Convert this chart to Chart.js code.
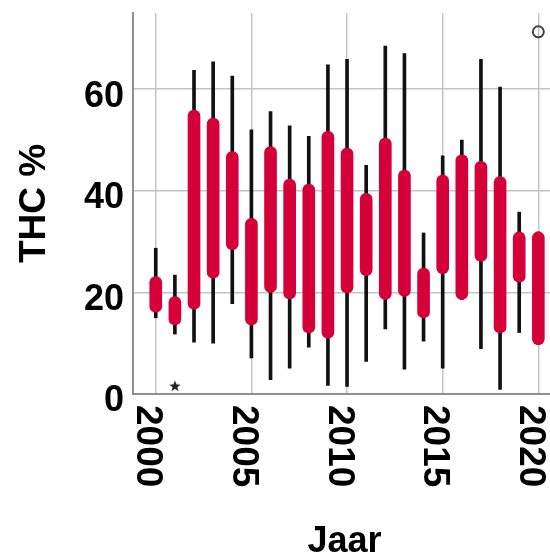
<!DOCTYPE html>
<html>
<head>
<meta charset="utf-8">
<script src="https://cdn.jsdelivr.net/npm/chart.js@4"></script>
<style>
  html, body { margin: 0; padding: 0; background: #fff; }
  #wrap { width: 550px; height: 559px; }
</style>
</head>
<body>
<div id="wrap"><canvas id="chart" width="550" height="559"></canvas></div>
<script>
// Data (THC % per year)
const years       = [2000, 2001, 2002, 2003, 2004, 2005, 2006, 2007, 2008, 2009, 2010, 2011, 2012, 2013, 2014, 2015, 2016, 2017, 2018, 2019, 2020];
const whiskerLow  = [15.0, 11.8, 10.2, 10.0, 17.8,  7.1,  2.8,  5.1,  9.2,  1.7,  1.5,  6.4, 12.8,  4.9, 10.4,  5.1, 18.6,  8.9,  0.9, 12.1,  9.7];
const boxLow      = [16.1, 13.6, 16.7, 22.8, 28.4, 13.6, 20.0, 18.7, 12.0, 11.0, 19.9, 23.3, 18.6, 19.2, 15.0, 23.7, 18.6, 26.1, 12.0, 22.0,  9.7];
const boxHigh     = [23.1, 19.2, 55.9, 54.3, 47.7, 34.6, 48.7, 42.3, 41.3, 51.7, 48.4, 39.5, 50.4, 44.1, 24.8, 43.1, 47.1, 45.8, 42.8, 31.9, 31.9];
const whiskerHigh = [28.7, 23.4, 63.7, 65.4, 62.6, 52.0, 55.6, 52.8, 50.7, 64.8, 65.9, 45.0, 68.5, 67.0, 31.7, 46.9, 50.0, 65.9, 60.4, 35.8, 31.9];

// extreme values (star) and outliers (circle)
const starYears   = [2001];
const starValues  = [1.6];
const circleYears  = [2020];
const circleValues = [71.3];

const xTicks = [2000, 2005, 2010, 2015, 2020];
const yTicks = [0, 20, 40, 60];

const boxColor = '#d5003a';
const gridColor = '#c4c4c4';
const axisColor = '#8f8f8f';
const labelFont = '"Liberation Sans", Arial, sans-serif';

// kleine gevulde ster als puntstijl
function makeStar(size) {
    const c = document.createElement('canvas');
    c.width = size; c.height = size;
    const g = c.getContext('2d');
    const cx = size / 2, cy = size / 2 + 0.5, R = size / 2, r = R * 0.42;
    g.beginPath();
    for (let i = 0; i < 10; i++) {
        const rad = i % 2 === 0 ? R : r;
        const a = -Math.PI / 2 + i * Math.PI / 5;
        g.lineTo(cx + rad * Math.cos(a), cy + rad * Math.sin(a));
    }
    g.closePath();
    g.fillStyle = '#222';
    g.fill();
    return c;
}

// labels worden zelf getekend (x-labels staan met de klok mee gedraaid)
const labelPlugin = {
    id: 'axisLabels',
    afterDraw(chart) {
        const ctx = chart.ctx;
        const xs = chart.scales.x, ys = chart.scales.y;
        const area = chart.chartArea;
        ctx.save();
        ctx.fillStyle = '#000';

        ctx.font = 'bold 36px ' + labelFont;
        ctx.textAlign = 'right';
        ctx.textBaseline = 'alphabetic';
        yTicks.forEach(v => ctx.fillText(String(v), 124, ys.getPixelForValue(v) + 17.4));

        ctx.font = 'bold 37px ' + labelFont;
        ctx.textAlign = 'left';
        xTicks.forEach(v => {
            ctx.save();
            ctx.translate(xs.getPixelForValue(v) - 18.4, 405);
            ctx.rotate(Math.PI / 2);
            ctx.fillText(String(v), 0, 0);
            ctx.restore();
        });

        ctx.font = 'bold 36px ' + labelFont;
        ctx.textAlign = 'center';
        ctx.fillText('Jaar', (area.left + area.right) / 2 + 3, 552);

        ctx.save();
        ctx.translate(45, (area.top + area.bottom) / 2);
        ctx.rotate(-Math.PI / 2);
        ctx.font = 'bold 37px ' + labelFont;
        ctx.fillText('THC %', 0, 0);
        ctx.restore();

        ctx.restore();
    }
};

const ctx = document.getElementById('chart').getContext('2d');
const chart = new Chart(ctx, {
    type: 'bar',
    data: {
        datasets: [
            {
                label: 'box',
                data: years.map((y, i) => ({ x: y, y: [boxLow[i], boxHigh[i]] })),
                backgroundColor: boxColor,
                barThickness: 12,
                borderRadius: 6,
                borderSkipped: false,
                grouped: false,
                order: 1
            },
            {
                label: 'whisker',
                data: years.map((y, i) => ({ x: y, y: [whiskerLow[i], whiskerHigh[i]] })),
                backgroundColor: '#111',
                barThickness: 3,
                grouped: false,
                order: 2
            },
            {
                type: 'scatter',
                label: 'extreem',
                data: starYears.map((y, i) => ({ x: y, y: starValues[i] })),
                pointStyle: makeStar(12),
                order: 0
            },
            {
                type: 'scatter',
                label: 'uitschieter',
                data: circleYears.map((y, i) => ({ x: y, y: circleValues[i] })),
                pointStyle: 'circle',
                pointRadius: 5.5,
                backgroundColor: 'rgba(255,255,255,0)',
                borderColor: '#444',
                borderWidth: 2,
                order: 0
            }
        ]
    },
    options: {
        responsive: false,
        animation: false,
        layout: { autoPadding: false, padding: { top: 13, right: 0, left: 0, bottom: 0 } },
        plugins: {
            legend: { display: false },
            tooltip: { enabled: false }
        },
        scales: {
            x: {
                type: 'linear',
                offset: false,
                min: 1998.81,
                max: 2020.61,
                afterBuildTicks: s => { s.ticks = xTicks.map(v => ({ value: v })); },
                afterFit: s => { s.height = 165; },
                ticks: { display: false },
                grid: { color: gridColor, lineWidth: 1.5, drawTicks: false, offset: false },
                border: { display: true, color: axisColor, width: 2 }
            },
            y: {
                min: 0,
                max: 75,
                afterBuildTicks: s => { s.ticks = yTicks.map(v => ({ value: v })); },
                afterFit: s => { s.width = 133; },
                ticks: { display: false },
                grid: { color: gridColor, lineWidth: 1.5, drawTicks: false },
                border: { display: true, color: axisColor, width: 2 }
            }
        }
    },
    plugins: [labelPlugin]
});
</script>
</body>
</html>
